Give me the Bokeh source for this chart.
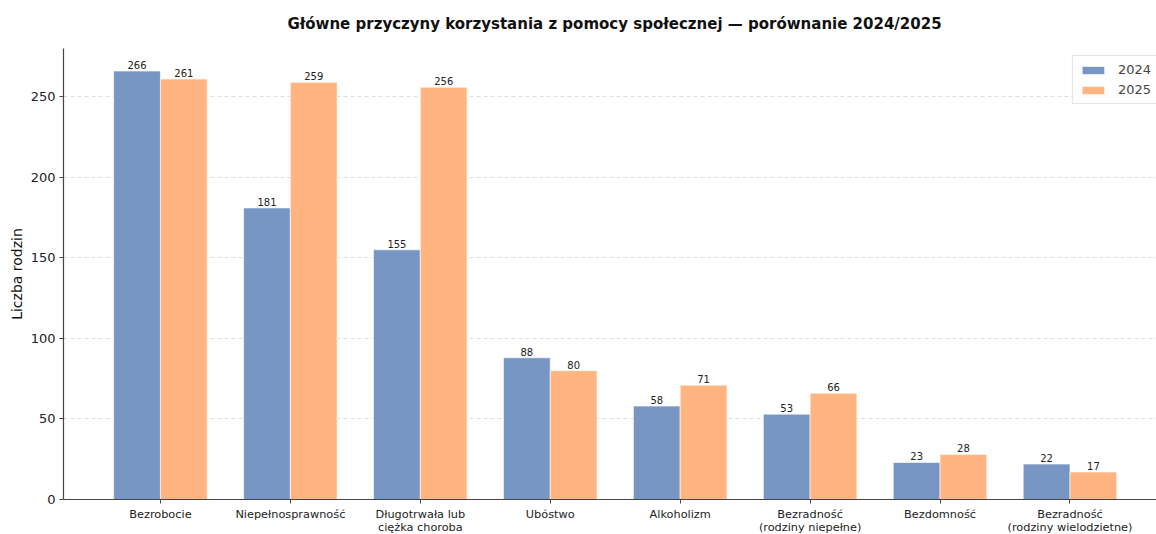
import numpy as np
from bokeh.plotting import figure
from bokeh.models import ColumnDataSource, FixedTicker, Range1d, Legend, LegendItem, Title
from bokeh.embed import file_html
from bokeh.resources import INLINE

categories = ["Bezrobocie", "Niepełnosprawność", "Długotrwała lub\nciężka choroba", "Ubóstwo",
              "Alkoholizm", "Bezradność\n(rodziny niepełne)", "Bezdomność",
              "Bezradność\n(rodziny wielodzietne)"]
values_2024 = [266, 181, 155, 88, 58, 53, 23, 22]
values_2025 = [261, 259, 256, 80, 71, 66, 28, 17]
years = ["2024", "2025"]
y_ticks = [0, 50, 100, 150, 200, 250]

FONT = "DejaVu Sans"
C24 = "#7896c4"
C25 = "#ffb482"
BW = 0.36

idx = np.arange(len(categories))
src = ColumnDataSource(dict(
    x24=idx - BW / 2, x25=idx + BW / 2,
    v24=values_2024, v25=values_2025,
    t24=[str(v) for v in values_2024], t25=[str(v) for v in values_2025],
))

p = figure(width=1165, height=536, output_backend="svg", toolbar_location=None,
           x_range=Range1d(-0.746, 7.735), y_range=Range1d(0, 280),
           min_border_left=63, min_border_right=0, min_border_top=48, min_border_bottom=34)
t = Title(text="Główne przyczyny korzystania z pomocy społecznej — porównanie 2024/2025",
          align="center", vertical_align="top", text_font=FONT, text_font_size="15px",
          text_font_style="bold", text_color="#111111", standoff=28)
p.add_layout(t, "above")

r24 = p.vbar(x="x24", top="v24", width=BW, source=src, fill_color=C24, line_color="white", line_width=0.6)
r25 = p.vbar(x="x25", top="v25", width=BW, source=src, fill_color=C25, line_color="white", line_width=0.6)

p.text(x="x24", y="v24", text="t24", source=src, text_align="center", text_baseline="bottom",
       y_offset=-2, text_font_size="10px", text_color="#222222", text_font={"value": FONT})
p.text(x="x25", y="v25", text="t25", source=src, text_align="center", text_baseline="bottom",
       y_offset=-2, text_font_size="10px", text_color="#222222", text_font={"value": FONT})

p.outline_line_color = None
p.xgrid.visible = False
p.ygrid.grid_line_color = "#dddddd"
p.ygrid.grid_line_dash = "4 3"
p.ygrid.grid_line_width = 1
p.ygrid.ticker = FixedTicker(ticks=y_ticks)

p.yaxis.ticker = FixedTicker(ticks=y_ticks)
p.xaxis.ticker = FixedTicker(ticks=list(idx))
p.xaxis.major_label_overrides = {int(i): c for i, c in zip(idx, categories)}

for ax in (p.xaxis[0], p.yaxis[0]):
    ax.axis_line_color = "#444444"
    ax.axis_line_width = 1.2
    ax.major_tick_line_color = "#444444"
    ax.major_tick_out = 4
    ax.major_tick_in = 0
    ax.minor_tick_line_color = None
    ax.major_label_text_font = FONT
    ax.major_label_text_color = "#222222"

p.xaxis.major_label_text_font_size = "11.3px"
p.xaxis.major_label_text_line_height = 1.0
p.xaxis.major_label_standoff = 4
p.yaxis.major_label_text_font_size = "13px"
p.yaxis.major_label_standoff = 4
p.yaxis.axis_label = "Liczba rodzin"
p.yaxis.axis_label_text_font = FONT
p.yaxis.axis_label_text_font_size = "14px"
p.yaxis.axis_label_text_font_style = "normal"
p.yaxis.axis_label_text_color = "#111111"
p.yaxis.axis_label_standoff = 3

legend = Legend(items=[LegendItem(label=years[0], renderers=[r24]),
                       LegendItem(label=years[1], renderers=[r25])],
                location="top_right", label_text_font=FONT, label_text_font_size="13px",
                glyph_width=28, glyph_height=10, spacing=5, padding=6, margin=7,
                border_line_color="#cccccc", border_line_width=1,
                background_fill_alpha=0.9, label_standoff=11)
p.add_layout(legend)

open("out.html", "w").write(file_html(p, INLINE))
